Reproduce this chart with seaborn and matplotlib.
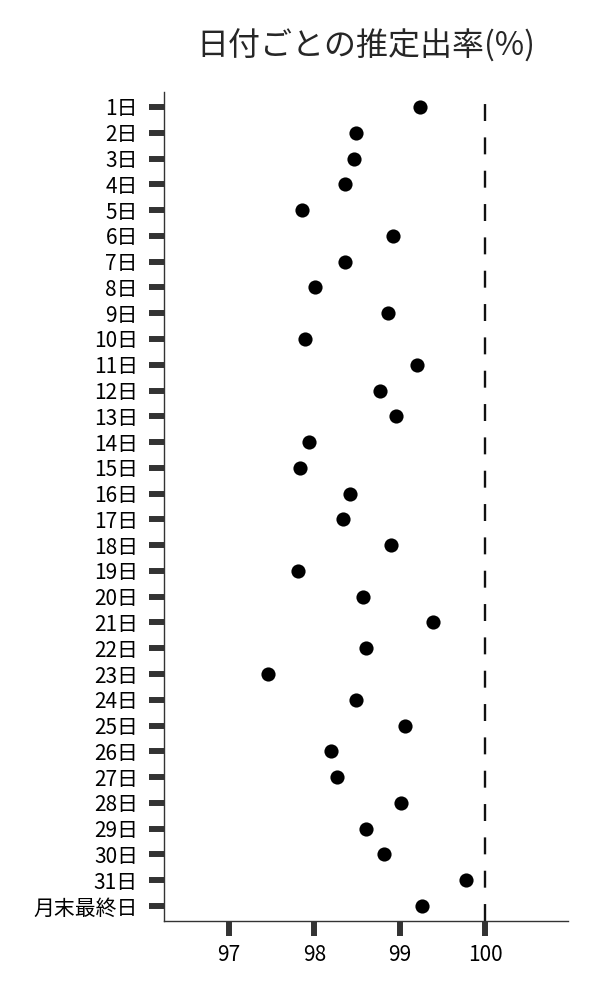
import matplotlib
matplotlib.use("Agg")
import matplotlib.pyplot as plt
import pandas as pd
import seaborn as sns

# 日付ラベル
days = [f"{i}日" for i in range(1, 32)] + ["月末最終日"]

# 推定出率(%)
rates = [99.24, 98.49, 98.47, 98.36, 97.85, 98.92, 98.36, 98.01, 98.86, 97.89,
         99.20, 98.77, 98.96, 97.94, 97.83, 98.42, 98.33, 98.90, 97.81, 98.57,
         99.39, 98.61, 97.46, 98.49, 99.06, 98.20, 98.27, 99.02, 98.61, 98.82,
         99.77, 99.26]

reference_value = 100
x_ticks = [97, 98, 99, 100]

df = pd.DataFrame({"day": days, "rate": rates})

sns.set_style("white")
plt.rcParams["font.family"] = ["Noto Sans CJK JP", "DejaVu Sans"]
plt.rcParams["lines.scale_dashes"] = False

fig = plt.figure(figsize=(6, 10), dpi=100)
ax = fig.add_axes([0.2733, 0.079, 0.6734, 0.829])

sns.stripplot(data=df, x="rate", y="day", order=days, jitter=False,
              color="black", size=10.2, linewidth=0, ax=ax)

# 100% の基準線（下端から破線を開始）
ax.axvline(reference_value, color="#111111", linewidth=1.7, dashes=(12.2, 11.8))

ax.set_xlim(96.24, 100.97)
ax.set_ylim(len(days) - 0.42, -0.58)
ax.set_xticks(x_ticks)
ax.set_xticklabels([str(v) for v in x_ticks])
ax.set_xlabel("")
ax.set_ylabel("")
ax.set_title("日付ごとの推定出率(%)", fontsize=23, pad=26)

for side in ["top", "right"]:
    ax.spines[side].set_visible(False)
for side in ["left", "bottom"]:
    ax.spines[side].set_color("#333333")
    ax.spines[side].set_linewidth(1.0)

ax.tick_params(axis="both", which="major", bottom=True, left=True,
               length=10.8, width=4.3, color="#333333", labelsize=15,
               labelcolor="black", direction="out")
ax.tick_params(axis="y", pad=8)
ax.tick_params(axis="x", pad=6)

fig.savefig("out.png", dpi=100)
